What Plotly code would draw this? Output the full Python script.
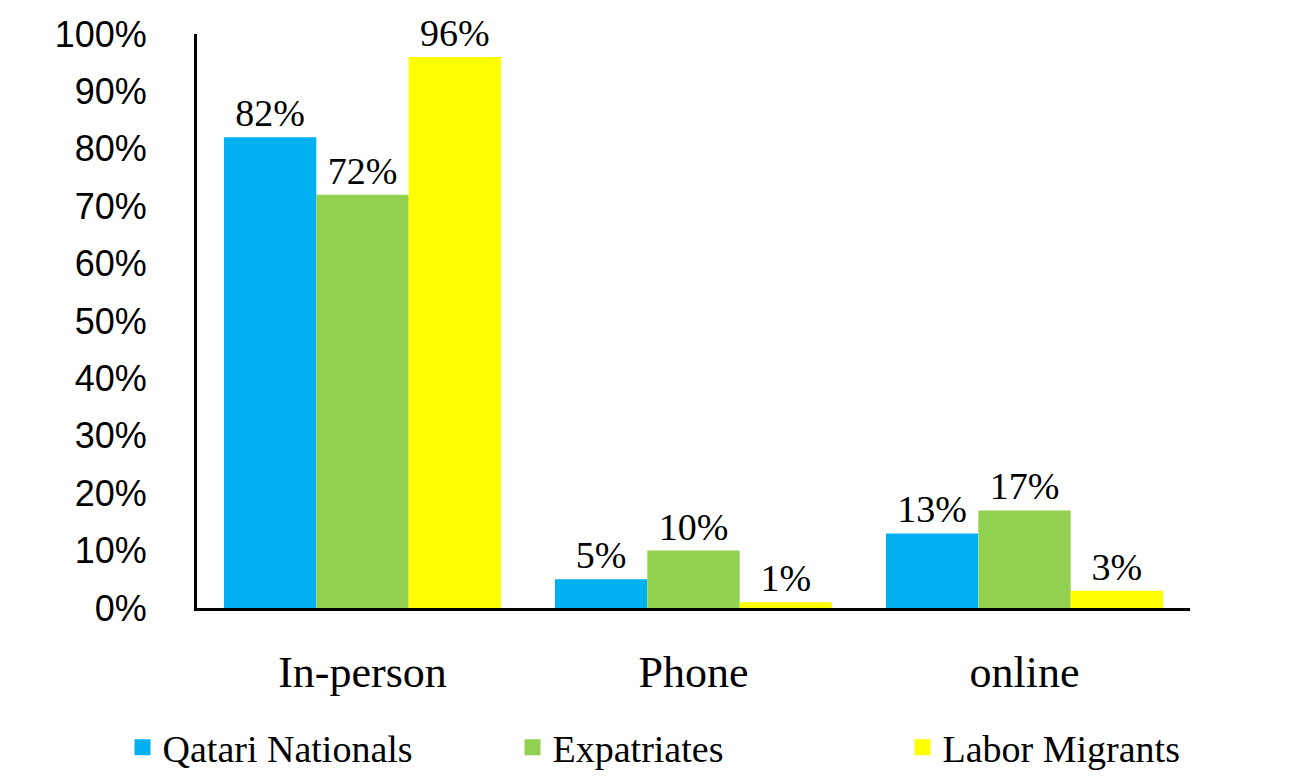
import plotly.graph_objects as go

categories = ["In-person", "Phone", "online"]
series_names = ["Qatari Nationals", "Expatriates", "Labor Migrants"]
qatari = [0.82, 0.05, 0.13]
expats = [0.72, 0.10, 0.17]
labor = [0.96, 0.01, 0.03]
colors = ["#00b0f0", "#92d050", "#ffff00"]
y_ticks = [0, 0.1, 0.2, 0.3, 0.4, 0.5, 0.6, 0.7, 0.8, 0.9, 1.0]

SERIF = "Liberation Serif, Times New Roman, serif"
SANS = "Liberation Sans, Arial, sans-serif"

fig = go.Figure()
for name, vals, col in zip(series_names, [qatari, expats, labor], colors):
    fig.add_bar(
        x=categories,
        y=vals,
        name=name,
        marker_color=col,
        marker_line_width=0,
        text=[f"{v:.0%}" for v in vals],
        textposition="outside",
        textfont=dict(family=SERIF, size=38, color="black"),
        cliponaxis=False,
        showlegend=False,
    )
    # legend entry with a bigger square swatch
    fig.add_scatter(
        x=[None], y=[None], mode="markers", name=name,
        marker=dict(symbol="square", size=26, color=col),
    )

# page body has an 8px margin, so the figure is a bit smaller than the window
fig.update_layout(
    width=1291,
    height=768,
    margin=dict(l=189, r=109, t=26, b=168, autoexpand=False),
    paper_bgcolor="white",
    plot_bgcolor="white",
    barmode="group",
    bargap=0.163,
    bargroupgap=0,
    legend=dict(
        orientation="h",
        x=-0.075,
        xanchor="left",
        y=-0.243,
        yanchor="middle",
        entrywidth=345,
        font=dict(family=SERIF, size=38, color="black"),
        itemsizing="trace",
        bgcolor="rgba(0,0,0,0)",
    ),
)
fig.update_xaxes(
    showline=True, linecolor="black", linewidth=3,
    showgrid=False, ticks="", automargin=False,
    tickfont=dict(family=SERIF, size=44, color="black"),
    ticklabelstandoff=23,
)
fig.update_yaxes(
    range=[0, 1],
    tickvals=y_ticks,
    tickformat=".0%",
    showline=True, linecolor="black", linewidth=3,
    showgrid=False, zeroline=False, ticks="", automargin=False,
    ticklabeloverflow="allow",
    tickfont=dict(family=SANS, size=36, color="black"),
    ticklabelstandoff=40,
)

fig.write_html("out.html")
